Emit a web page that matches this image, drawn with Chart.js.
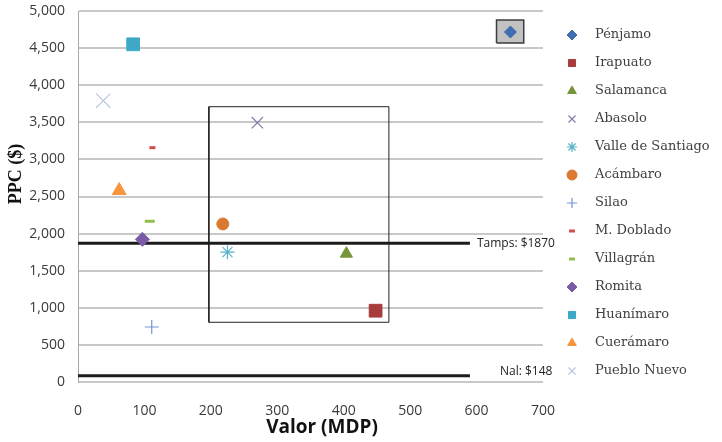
<!DOCTYPE html>
<html>
<head>
<meta charset="utf-8">
<script src="https://cdn.jsdelivr.net/npm/chart.js@4/dist/chart.umd.min.js"></script>
<style>
  html, body { margin: 0; padding: 0; background: #fff; }
</style>
</head>
<body>
<canvas id="myChart" width="722" height="442"></canvas>
<script>
// municipios y sus valores (Valor en MDP, PPC en $)
const municipios = ['Pénjamo', 'Irapuato', 'Salamanca', 'Abasolo', 'Valle de Santiago', 'Acámbaro', 'Silao',
                    'M. Doblado', 'Villagrán', 'Romita', 'Huanímaro', 'Cuerámaro', 'Pueblo Nuevo'];
const valorMDP = [651, 448, 404, 270, 225, 218, 111, 112, 108, 97, 83, 62, 38];
const ppc      = [4717, 961, 1730, 3495, 1750, 2130, 741, 3158, 2166, 1923, 4551, 2580, 3791];

// marker look for each municipio
const estilos  = ['rectRot', 'rect', 'triangle', 'crossRot', 'star', 'circle', 'cross',
                  'line', 'line', 'rectRot', 'rect', 'triangle', 'crossRot'];
const colores  = ['#3f6db0', '#a83b3b', '#76943a', '#8a78b0', '#58b3c8', '#d97a30', '#7096cf',
                  '#d04e4e', '#92bf4a', '#7a5ca6', '#3ea8c7', '#f7953e', '#bcc6e2'];
const radios   = [6, 9, 7, 8, 7, 6, 7, 3, 5, 7, 9, 8, 10];
const grosores = [1, 1, 1, 1.2, 1.2, 1, 1.2, 3, 3, 1, 1, 1, 1.2];

// reference lines (Tamps / Nal) and boxes
const tamps = 1870;
const nal = 85;
const finLineas = 590;
const cajaX = [197, 468];
const cajaY = [805, 3710];
const resaltaX = [630, 671];
const resaltaY = [4569, 4879];

const xMax = 700, xPaso = 100;
const yMax = 5000, yPaso = 500;

const datasets = municipios.map((m, i) => ({
    label: m,
    data: [{x: valorMDP[i], y: ppc[i]}],
    pointStyle: estilos[i],
    pointRadius: radios[i],
    pointBorderWidth: grosores[i],
    pointBackgroundColor: colores[i],
    pointBorderColor: colores[i],
    order: 0
}));

// gray box behind Pénjamo
datasets.push({
    label: '_resalta',
    data: [{x: resaltaX[0], y: resaltaY[0]}, {x: resaltaX[1], y: resaltaY[0]},
           {x: resaltaX[1], y: resaltaY[1]}, {x: resaltaX[0], y: resaltaY[1]},
           {x: resaltaX[0], y: resaltaY[0]}],
    showLine: true, pointRadius: 0, fill: 'shape',
    backgroundColor: '#c2c2c2', borderColor: '#3c3c3c', borderWidth: 1.5,
    order: 2
});
// rectangle around the middle group
datasets.push({
    label: '_caja',
    data: [{x: cajaX[0], y: cajaY[0]}, {x: cajaX[1], y: cajaY[0]},
           {x: cajaX[1], y: cajaY[1]}, {x: cajaX[0], y: cajaY[1]},
           {x: cajaX[0], y: cajaY[0]}],
    showLine: true, pointRadius: 0, borderColor: '#222', borderWidth: 1,
    order: 2
});
[tamps, nal].forEach(v => datasets.push({
    label: '_ref',
    data: [{x: 0, y: v}, {x: finLineas, y: v}],
    showLine: true, pointRadius: 0, borderColor: '#1c1c1c', borderWidth: 3,
    order: 1
}));

const textos = {
    id: 'textos',
    afterDraw(chart) {
        const ctx = chart.ctx;
        const xs = chart.scales.x, ys = chart.scales.y;
        ctx.save();

        // labels of reference lines
        ctx.font = '12px "Open Sans"';
        ctx.fillStyle = '#222';
        ctx.textBaseline = 'middle';
        ctx.fillText('Tamps: $' + tamps, xs.getPixelForValue(finLineas) + 7, ys.getPixelForValue(tamps));
        ctx.fillText('Nal: $148', xs.getPixelForValue(finLineas) + 30, ys.getPixelForValue(nal) - 4);

        // axis titles
        ctx.fillStyle = '#111';
        ctx.textAlign = 'center';
        ctx.font = 'bold 19px "Open Sans"';
        ctx.fillText('Valor (MDP)', chart.chartArea.left + 244, 428);
        ctx.save();
        ctx.translate(16, chart.chartArea.top + 163);
        ctx.rotate(-Math.PI / 2);
        ctx.font = 'bold 18px "Liberation Serif"';
        ctx.fillText('PPC ($)', 0, 0);
        ctx.restore();

        // legend on the right
        ctx.textAlign = 'left';
        ctx.font = '13px "DejaVu Serif"';
        municipios.forEach((m, i) => {
            const y = 35 + i * 28;
            ctx.fillStyle = colores[i];
            ctx.strokeStyle = colores[i];
            ctx.lineWidth = estilos[i] === 'line' ? 3 : grosores[i];
            Chart.helpers.drawPoint(ctx, {
                pointStyle: estilos[i],
                radius: estilos[i] === 'line' ? 3 : 5,
                borderWidth: ctx.lineWidth
            }, 572, y);
            ctx.fillStyle = '#404040';
            ctx.fillText(m, 595, y);
        });
        ctx.restore();
    }
};

new Chart(document.getElementById('myChart'), {
    type: 'scatter',
    data: { datasets: datasets },
    options: {
        responsive: false,
        animation: false,
        devicePixelRatio: 1,
        layout: { autoPadding: false, padding: { left: 0, top: 11, right: 179, bottom: 0 } },
        scales: {
            x: {
                min: 0, max: xMax,
                ticks: { stepSize: xPaso, padding: 21, color: '#3a3a3a', font: { family: 'Open Sans', size: 14 } },
                grid: { display: false, drawTicks: false },
                border: { display: false },
                afterFit: s => { s.height = 60; s.paddingLeft = 0; s.paddingRight = 0; }
            },
            y: {
                min: 0, max: yMax,
                ticks: { stepSize: yPaso, padding: 13, color: '#3a3a3a', font: { family: 'Open Sans', size: 14 } },
                grid: { color: '#c8c8c8', lineWidth: 2, drawTicks: false },
                border: { color: '#a8a8a8', width: 1 },
                afterFit: s => { s.width = 78; s.paddingTop = 0; s.paddingBottom = 0; }
            }
        },
        plugins: {
            legend: { display: false },
            tooltip: { enabled: false }
        }
    },
    plugins: [textos]
});
</script>
</body>
</html>
